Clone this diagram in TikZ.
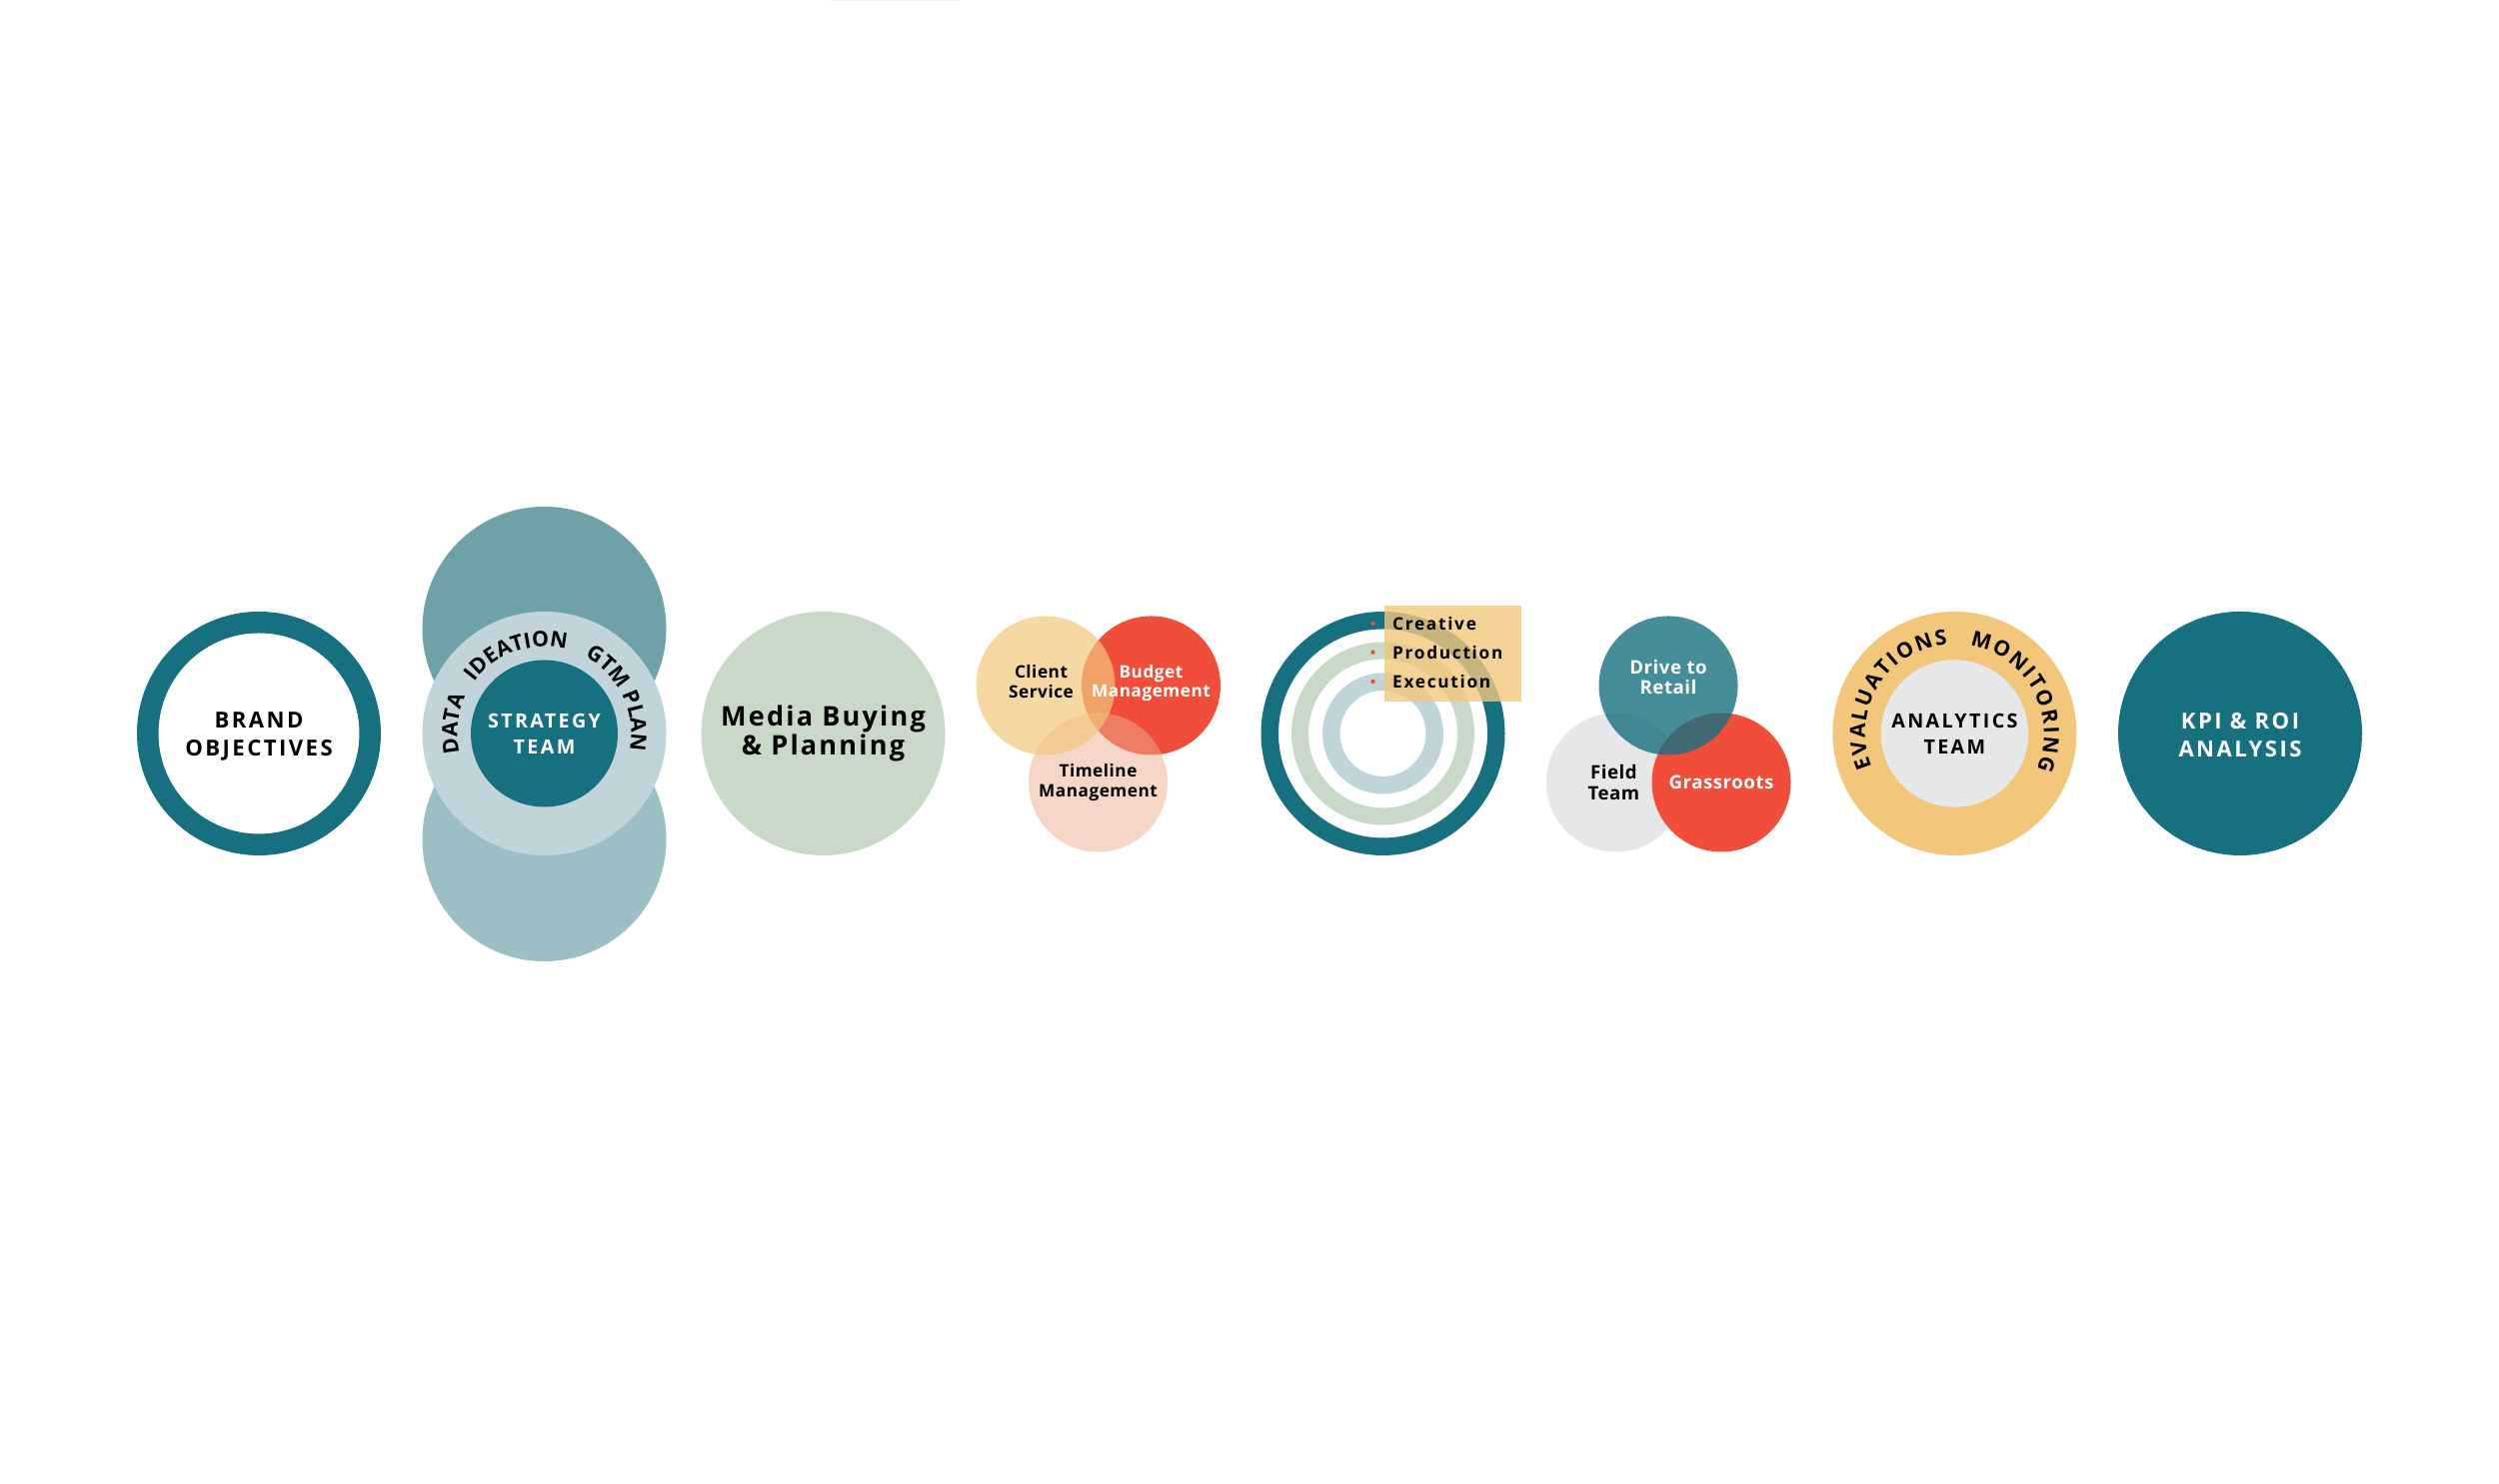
\documentclass[tikz,border=0pt]{standalone}
\usepackage{fontspec}
\setmainfont{Open Sans}
\usetikzlibrary{positioning,decorations.text}

\definecolor{deepteal}{HTML}{16707F}
\definecolor{stratTop}{HTML}{6FA1A9}
\definecolor{stratBottom}{HTML}{9CBFC5}
\definecolor{paleblue}{HTML}{C1D4DA}
\definecolor{sage}{HTML}{C8DAC7}
\definecolor{sand}{HTML}{F2C77C}
\definecolor{coral}{HTML}{F04E3A}
\definecolor{salmon}{HTML}{EDAD8D}
\definecolor{cloud}{HTML}{E6E7E8}
\definecolor{faint}{HTML}{FCEDED}

\newcommand{\stratarc}{\bfseries\fontsize{6.1}{7}\selectfont}
\newcommand{\anaarc}{\bfseries\fontsize{6}{7}\selectfont\kern0.6pt\relax}
\newcommand{\tracked}[1]{\addfontfeatures{LetterSpace=#1}}

\begin{document}
\begin{tikzpicture}
        \tikzstyle{disc}=[circle, inner sep=0pt, minimum size=2.44cm]
        \tikzstyle{small disc}=[circle, inner sep=0pt, minimum size=1.39cm]
        \tikzstyle{title text}=[align=center, font=\bfseries\fontsize{6.3}{8}\selectfont\tracked{11}]
        \tikzstyle{team text}=[align=center, font=\bfseries\fontsize{5.6}{7.4}\selectfont\tracked{12}]
        \tikzstyle{media text}=[align=center, font=\bfseries\fontsize{7.7}{8.3}\selectfont\tracked{8}]
        \tikzstyle{venn text}=[align=center, font=\bfseries\fontsize{4.9}{5.5}\selectfont\tracked{3}]
        \tikzstyle{field text}=[align=center, font=\bfseries\fontsize{5.3}{5.9}\selectfont\tracked{3}]
        \tikzstyle{list text}=[inner sep=0pt, font=\bfseries\fontsize{4.9}{5.5}\selectfont\tracked{10}]
        \tikzstyle{arc text}=[decorate, decoration={text along path, text align=center}]

        \useasboundingbox (0,0) rectangle (25,14.85);
        \fill[faint] (8.3,14.84) rectangle (9.6,14.85);

        % Brand objectives
        \node[circle, inner sep=0pt, minimum size=2.225cm, draw=deepteal, line width=0.215cm] (brand) at (2.59,7.51) {};
        \node[title text] at ([yshift=-0.03cm]brand.center) {BRAND\\OBJECTIVES};

        % Strategy team
        \node[disc, fill=stratTop] (strat-top) at (5.445,8.56) {};
        \node[disc, fill=stratBottom] (strat-bottom) at (5.445,6.45) {};
        \node[disc, fill=paleblue] (strat) at (5.445,7.51) {};
        \node[circle, inner sep=0pt, minimum size=1.47cm, fill=deepteal] (strat-core) at (strat) {};
        \node[team text, text=white] at (strat-core) {STRATEGY\\TEAM};
        \path[arc text, decoration={text={|\stratarc|DATA}}]
            ([shift={(214:0.87)}]strat.center) arc[start angle=214, end angle=134, radius=0.87];
        \path[arc text, decoration={text={|\stratarc|IDEATION}}]
            ([shift={(160:0.87)}]strat.center) arc[start angle=160, end angle=59, radius=0.87];
        \path[arc text, decoration={text={|\stratarc|GTM PLAN}}]
            ([shift={(80:0.87)}]strat.center) arc[start angle=80, end angle=-29, radius=0.87];

        % Media buying
        \node[disc, fill=sage] (media) at (8.235,7.51) {};
        \node[media text] at (media) {Media Buying\\\& Planning};

        % Client / budget / timeline
        \node[small disc, fill=coral] (budget) at (11.515,7.99) {};
        \node[small disc, fill=salmon, fill opacity=0.5] (timeline) at (10.985,7.02) {};
        \node[small disc, fill=sand, fill opacity=0.7] (client) at (10.46,7.99) {};
        \node[venn text] at ([shift={(-0.045,0.04)}]client.center) {Client\\Service};
        \node[venn text, text=white] at ([yshift=0.025cm]budget.center) {Budget\\Management};
        \node[venn text] at (timeline) {Timeline\\Management};

        % Creative rings
        \node[circle, inner sep=0pt, draw=deepteal, line width=0.175cm, minimum size=2.265cm] (target) at (13.835,7.51) {};
        \node[circle, inner sep=0pt, draw=sage, line width=0.17cm, minimum size=1.66cm] (target-mid) at (target) {};
        \node[circle, inner sep=0pt, draw=paleblue, line width=0.175cm, minimum size=1.035cm] (target-core) at (target) {};
        \node[anchor=north west, inner sep=0pt, minimum width=1.37cm, minimum height=0.96cm, fill=sand, fill opacity=0.8] (list) at (13.84,8.8) {};
        \foreach \name/\y [count=\i] in {Creative/8.61, Production/8.323, Execution/8.03} {
            \node[circle, fill=coral, inner sep=0pt, minimum size=0.045cm] (dot-\i) at (13.735,\y) {};
            \node[list text, right=0.16cm of dot-\i] {\name};
        }

        % Field / grassroots / retail
        \node[small disc, fill=cloud] (field) at (16.164,7.02) {};
        \node[small disc, fill=coral] (grass) at (17.22,7.02) {};
        \node[small disc, fill=deepteal, fill opacity=0.8] (drive) at (16.69,7.99) {};
        \node[field text] at ([xshift=-0.02cm]field.center) {Field\\Team};
        \node[field text, text=white] at (grass) {Grassroots};
        \node[field text, text=white] at ([yshift=0.085cm]drive.center) {Drive to\\Retail};

        % Analytics team
        \node[disc, fill=sand] (analytics) at (19.554,7.51) {};
        \node[circle, inner sep=0pt, minimum size=1.474cm, fill=cloud] (analytics-core) at (analytics) {};
        \node[team text] at (analytics-core) {ANALYTICS\\TEAM};
        \path[arc text, decoration={text={|\anaarc|EVALUATIONS}}]
            ([shift={(224:0.895)}]analytics.center) arc[start angle=224, end angle=74, radius=0.895];
        \path[arc text, decoration={text={|\anaarc|MONITORING}}]
            ([shift={(104:0.895)}]analytics.center) arc[start angle=104, end angle=-46, radius=0.895];

        % KPI
        \node[disc, fill=deepteal] (kpi) at (22.41,7.51) {};
        \node[title text, text=white] at ([yshift=-0.016cm]kpi.center) {KPI \& ROI\\ANALYSIS};
\end{tikzpicture}
\end{document}
